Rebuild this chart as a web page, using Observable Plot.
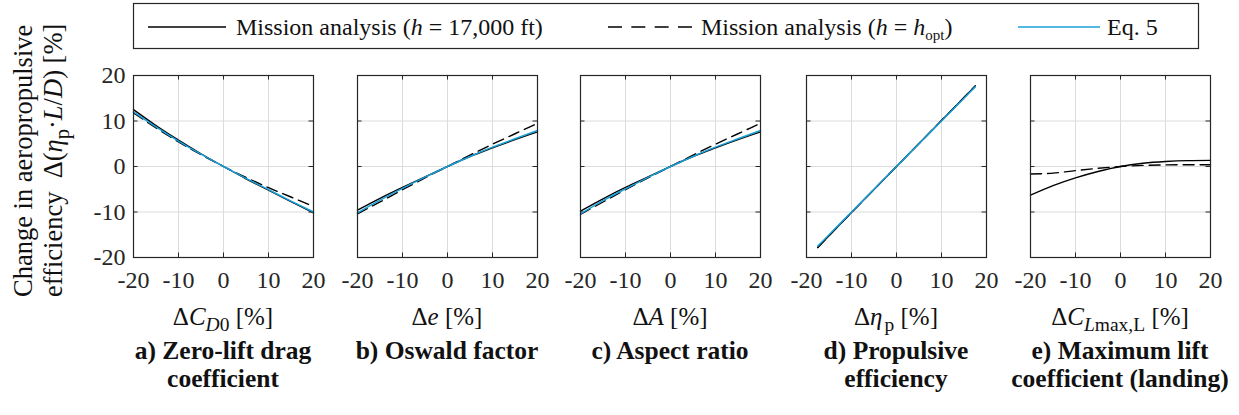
<!DOCTYPE html>
<html><head><meta charset="utf-8">
<script src="https://cdn.jsdelivr.net/npm/d3@7"></script>
<script src="https://cdn.jsdelivr.net/npm/@observablehq/plot@0.6"></script>
<style>
body{margin:0;background:#fff;}
#root{position:relative;width:1239px;height:415px;overflow:hidden;font-family:"Liberation Serif","DejaVu Serif",serif;color:#111;background:#fff;}
.abs{position:absolute;white-space:nowrap;}
.xl{font-size:25px;text-align:center;width:240px;line-height:26px;}
.cap{font-size:25.5px;font-weight:bold;text-align:center;width:280px;line-height:28px;}
sub{font-size:78%;vertical-align:-0.32em;line-height:0;}
</style></head><body><div id="root"></div>
<script>
// ---- data ----
const xTicks = [-20, -10, 0, 10, 20];
const yTicks = [-20, -10, 0, 10, 20];
const seriesNames = ["Mission analysis (h = 17,000 ft)", "Mission analysis (h = h_opt)", "Eq. 5"];

const xsStd = [-20, -15, -10, -5, 0, 5, 10, 15, 20];
const xsProp = [-17.5, -15, -10, -5, 0, 5, 10, 15, 17.5];

const cd0Fixed = [12.5, 9.0, 5.8, 2.8, 0, -2.7, -5.2, -7.7, -10.2];
const cd0Opt   = [11.8, 8.5, 5.4, 2.6, 0, -2.4, -4.65, -6.7, -8.8];
const cd0Eq    = [12.0, 8.7, 5.6, 2.7, 0, -2.6, -5.1, -7.6, -10.0];

const eFixed = [-9.6, -7.0, -4.6, -2.3, 0, 2.2, 4.1, 5.9, 7.6];
const eOpt   = [-10.4, -7.8, -5.1, -2.5, 0, 2.5, 4.9, 7.2, 9.5];
const eEq    = [-10.2, -7.4, -4.8, -2.35, 0, 2.2, 4.25, 6.1, 7.9];

const aFixed = [-9.8, -7.1, -4.6, -2.3, 0, 2.2, 4.1, 5.9, 7.6];
const aOpt   = [-10.5, -7.8, -5.1, -2.5, 0, 2.5, 4.9, 7.2, 9.5];
const aEq    = [-10.4, -7.5, -4.9, -2.4, 0, 2.2, 4.25, 6.1, 7.9];

const propFixed = [-17.8, -15.2, -10.1, -5.05, 0, 5.05, 10.1, 15.15, 17.7];
const propOpt   = [-17.8, -15.2, -10.1, -5.05, 0, 5.05, 10.1, 15.15, 17.7];
const propEq    = [-17.5, -15.0, -10.0, -5.0, 0, 5.0, 10.0, 15.0, 17.5];

const clFixed = [-6.3, -4.2, -2.5, -1.1, 0, 0.7, 1.1, 1.3, 1.35];
const clOpt   = [-1.65, -1.45, -0.9, -0.4, 0, 0.25, 0.35, 0.4, 0.4];

const xLabels = [
  'Δ<i>C</i><sub><i>D</i>0</sub> [%]',
  'Δ<i>e</i> [%]',
  'Δ<i>A</i> [%]',
  'Δ<i>η</i><sub style="margin-left:2px">p</sub> [%]',
  'Δ<i>C</i><sub><i>L</i>max,L</sub> [%]'
];
const captions = [
  'a) Zero-lift drag<br>coefficient',
  'b) Oswald factor',
  'c) Aspect ratio',
  'd) Propulsive<br>efficiency',
  'e) Maximum lift<br>coefficient (landing)'
];

const panels = [
  {xs: xsStd, fixed: cd0Fixed, opt: cd0Opt, eq: cd0Eq},
  {xs: xsStd, fixed: eFixed, opt: eOpt, eq: eEq},
  {xs: xsStd, fixed: aFixed, opt: aOpt, eq: aEq},
  {xs: xsProp, fixed: propFixed, opt: propOpt, eq: propEq},
  {xs: xsStd, fixed: clFixed, opt: clOpt, eq: null}
];

// ---- layout ----
const FONT = '"Liberation Serif","DejaVu Serif",serif';
const root = document.getElementById("root");
const frameLefts = [133, 357, 580, 806, 1030];
const frameW = 180, frameTop = 75, frameH = 182;
const mL = 45, mR = 45, mT = 15, mB = 45;
const ink = "#262626";
const blue = "#1AA0D8";

function mk(xs, ys, s) { return xs.map((x, i) => ({x, y: ys[i], s})); }

panels.forEach((p, i) => {
  const fixed = mk(p.xs, p.fixed, seriesNames[0]);
  const opt = mk(p.xs, p.opt, seriesNames[1]);
  const eq = p.eq ? mk(p.xs, p.eq, seriesNames[2]) : [];
  const inner = xTicks.slice(1, -1);
  const chart = Plot.plot({
    width: frameW + mL + mR,
    height: frameH + mT + mB,
    marginLeft: mL, marginRight: mR, marginTop: mT, marginBottom: mB,
    x: {domain: [-20, 20], axis: null},
    y: {domain: [-20, 20], axis: null},
    style: {fontFamily: FONT, fontSize: "24px", color: ink, background: "transparent", overflow: "visible"},
    marks: [
      Plot.ruleX(inner, {x: d => d, stroke: "#dcdcdc", strokeWidth: 1}),
      Plot.ruleY(inner, {y: d => d, stroke: "#dcdcdc", strokeWidth: 1}),
      Plot.ruleX(inner, {x: d => d, y1: -20, y2: -19.0, stroke: ink}),
      Plot.ruleX(inner, {x: d => d, y1: 20, y2: 19.0, stroke: ink}),
      Plot.ruleY(inner, {y: d => d, x1: -20, x2: -19.0, stroke: ink}),
      Plot.ruleY(inner, {y: d => d, x1: 20, x2: 19.0, stroke: ink}),
      Plot.line(fixed, {x: "x", y: "y", stroke: "#000", strokeWidth: 1.4, curve: "monotone-x"}),
      Plot.line(opt, {x: "x", y: "y", stroke: "#000", strokeWidth: 1.4, strokeDasharray: "11,6", curve: "monotone-x"}),
      Plot.line(eq, {x: "x", y: "y", stroke: blue, strokeWidth: 1.5, curve: "monotone-x"}),
      Plot.frame({stroke: ink, strokeWidth: 1.2}),
      Plot.axisX(xTicks, {tickSize: 0, tickPadding: 13, fontSize: 24, fontFamily: FONT, fill: ink, label: null, tickFormat: d => String(d)}),
      i === 0 ? Plot.axisY(yTicks, {tickSize: 0, tickPadding: 8, fontSize: 24, fontFamily: FONT, fill: ink, label: null, tickFormat: d => String(d)}) : null
    ]
  });
  chart.style.position = "absolute";
  chart.style.left = (frameLefts[i] - mL) + "px";
  chart.style.top = (frameTop - mT) + "px";
  root.append(chart);

  const cx = frameLefts[i] + frameW / 2;
  const xl = document.createElement("div");
  xl.className = "abs xl";
  xl.innerHTML = xLabels[i];
  xl.style.left = (cx - 120) + "px";
  xl.style.top = "304px";
  root.append(xl);

  const cap = document.createElement("div");
  cap.className = "abs cap";
  cap.innerHTML = captions[i];
  cap.style.left = (cx - 140) + "px";
  cap.style.top = "337px";
  root.append(cap);
});

// y label (rotated)
const yl = document.createElement("div");
yl.className = "abs";
yl.style.cssText += "left:8px;top:297px;width:295px;transform-origin:0 0;transform:rotate(-90deg);font-size:26.5px;line-height:30px;text-align:left;";
yl.innerHTML = 'Change in aeropropulsive<br>efficiency &nbsp;Δ(<i>η</i><sub>p</sub>·<i>L</i>/<i>D</i>) [%]';
root.append(yl);

// legend
const lg = d3.create("svg").attr("width", 1239).attr("height", 60)
  .style("position", "absolute").style("left", "0px").style("top", "0px")
  .style("font-family", FONT).style("font-size", "24px");
lg.append("rect").attr("x", 133.5).attr("y", 3.5).attr("width", 1065).attr("height", 45)
  .attr("fill", "#fff").attr("stroke", ink).attr("stroke-width", 1.2);
const ly = 27;
const items = [
  {x1: 148, x2: 226, tx: 236, dash: null, color: "#000"},
  {x1: 608, x2: 692, tx: 701, dash: "14,9.33", color: "#000"},
  {x1: 1018, x2: 1100, tx: 1107, dash: null, color: blue}
];
items.forEach((it, k) => {
  const l = lg.append("line").attr("x1", it.x1).attr("x2", it.x2).attr("y1", ly).attr("y2", ly)
    .attr("stroke", it.color).attr("stroke-width", 1.5);
  if (it.dash) l.attr("stroke-dasharray", it.dash);
  const t = lg.append("text").attr("x", it.tx).attr("y", ly).attr("dy", "0.35em").attr("fill", "#111");
  if (k === 0) {
    t.append("tspan").text("Mission analysis (");
    t.append("tspan").attr("font-style", "italic").text("h");
    t.append("tspan").text(" = 17,000 ft)");
  } else if (k === 1) {
    t.append("tspan").text("Mission analysis (");
    t.append("tspan").attr("font-style", "italic").text("h");
    t.append("tspan").text(" = ");
    t.append("tspan").attr("font-style", "italic").text("h");
    t.append("tspan").attr("font-size", "15px").attr("dy", "5").text("opt");
    t.append("tspan").attr("dy", "-5").text(")");
  } else {
    t.text(seriesNames[2]);
  }
});
root.append(lg.node());
</script></body></html>
